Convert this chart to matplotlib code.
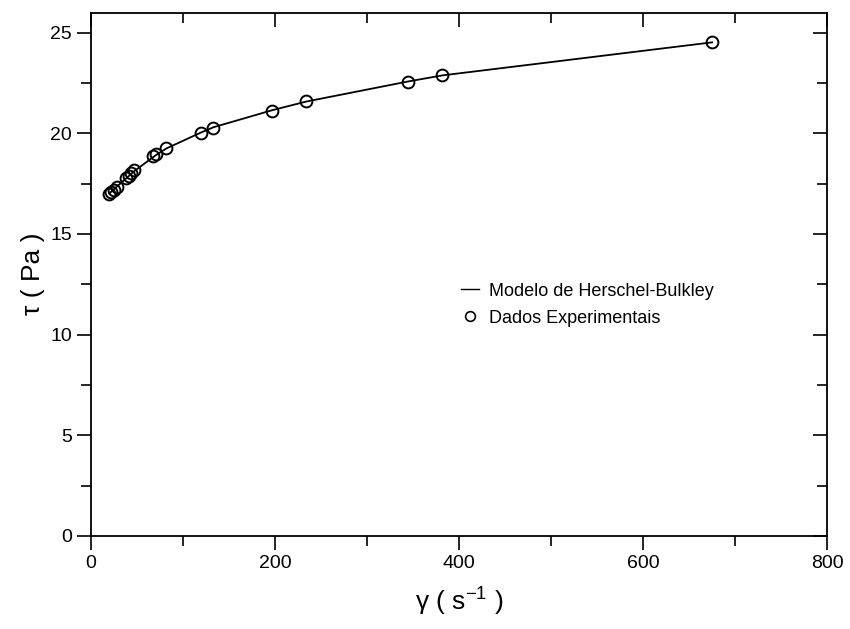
import matplotlib
matplotlib.use("Agg")
import matplotlib.pyplot as plt
from matplotlib.lines import Line2D
from matplotlib.ticker import MultipleLocator

plt.rcParams['font.family'] = ['Liberation Sans', 'DejaVu Sans']

# shear rate (1/s) and measured shear stress (Pa)
gamma = [20, 22, 25, 28, 38, 41, 44, 47, 67, 71, 82, 120, 133, 197, 234, 345, 382, 675]
tau_exp = [17.0, 17.1, 17.2, 17.35, 17.8, 17.9, 18.05, 18.2, 18.85, 18.95, 19.25,
           20.03, 20.28, 21.13, 21.59, 22.57, 22.88, 24.52]
# Herschel-Bulkley model evaluated at the same shear rates
tau_model = [17.0, 17.1, 17.22, 17.35, 17.75, 17.87, 18.0, 18.12, 18.8, 18.93, 19.25,
             20.05, 20.3, 21.15, 21.58, 22.58, 22.88, 24.52]

fig = plt.figure(figsize=(8.5, 6.29), dpi=100)
ax = fig.add_axes([0.107, 0.148, 0.866, 0.832])

ax.plot(gamma, tau_model, color="black", lw=1.3, zorder=2)
ax.plot(gamma, tau_exp, "o", mfc="none", mec="black", ms=8.5, mew=1.4, zorder=3)

ax.set_xlim(0, 800)
ax.set_ylim(0, 26)
ax.xaxis.set_major_locator(MultipleLocator(200))
ax.xaxis.set_minor_locator(MultipleLocator(100))
ax.yaxis.set_major_locator(MultipleLocator(5))
ax.yaxis.set_minor_locator(MultipleLocator(2.5))

ax.tick_params(which="both", direction="out", top=False, right=False, labelsize=14, width=1.2)
ax.tick_params(which="major", length=10)
ax.tick_params(which="minor", length=7)
# inner ticks on top and right, like the original
ax2 = ax.secondary_xaxis("top")
ax2.xaxis.set_major_locator(MultipleLocator(200))
ax2.xaxis.set_minor_locator(MultipleLocator(100))
ax2.tick_params(which="both", direction="in", labeltop=False, width=1.2)
ax2.tick_params(which="major", length=10)
ax2.tick_params(which="minor", length=7)
ax3 = ax.secondary_yaxis("right")
ax3.yaxis.set_major_locator(MultipleLocator(5))
ax3.yaxis.set_minor_locator(MultipleLocator(2.5))
ax3.tick_params(which="both", direction="in", labelright=False, width=1.2)
ax3.tick_params(which="major", length=10)
ax3.tick_params(which="minor", length=7)
for s in ax.spines.values():
    s.set_linewidth(1.3)
ax2.spines["top"].set_visible(False)
ax3.spines["right"].set_visible(False)

ax.set_xlabel("γ ( s$\\mathregular{^{-1}}$ )", fontsize=19, labelpad=10)
ax.set_ylabel("τ ( Pa )", fontsize=19, labelpad=4)

handles = [Line2D([], [], color="black", lw=1),
           Line2D([], [], ls="none", marker="o", mfc="none", mec="black", ms=7, mew=1.2)]
ax.legend(handles, ["Modelo de Herschel-Bulkley", "Dados Experimentais"],
          loc="upper left", bbox_to_anchor=(0.48, 0.515), frameon=False,
          fontsize=13, handlelength=1.0, handletextpad=0.6, labelspacing=0.55)

fig.savefig("out.png", dpi=100)
